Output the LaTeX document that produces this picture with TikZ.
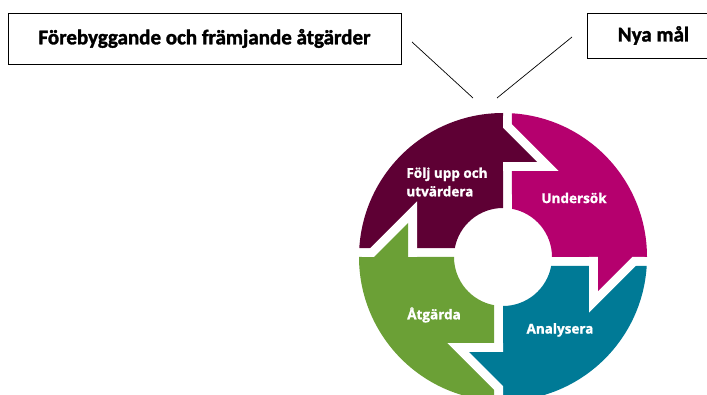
\documentclass[tikz,border=0pt]{standalone}
\usepackage{fontspec}
\setmainfont{Carlito}
\newfontfamily\boxfont[FakeBold=1.6]{Carlito Bold}
\newfontfamily\ringfont[FakeBold=1.2]{Open Sans Bold}
\usepackage{tikz}
\usetikzlibrary{calc}

\definecolor{wine}{RGB}{94,0,52}
\definecolor{plum}{RGB}{181,0,110}
\definecolor{petrol}{RGB}{0,122,150}
\definecolor{grass}{RGB}{107,160,54}

\begin{document}
\begin{tikzpicture}[x=1pt, y=1pt,
        box/.style={draw, line width=0.8pt, inner sep=0pt, font=\boxfont\fontsize{21}{25}\selectfont},
        ringlabel/.style={white, align=left, font=\ringfont\fontsize{13.5}{18.5}\selectfont}]
        \useasboundingbox (0, 0) rectangle (707, 394);
        \clip (0, 0) rectangle (707, 394);
        \node [box, minimum width=393pt, minimum height=51pt] (prevent) at (204.5, 355.5) {Förebyggande och främjande åtgärder};
        \node [box, minimum width=133pt, minimum height=45pt] (goals) at (653.5, 358.5) {Nya mål};
        \coordinate (leftend) at (412, 352);
        \coordinate (lefttip) at (473, 296);
        \coordinate (rightend) at (572, 357);
        \coordinate (righttip) at (497, 296);
        \draw [line width=0.7pt] (leftend) -- (lefttip);
        \draw [line width=0.7pt] (rightend) -- (righttip);
        \begin{scope}[shift={(503, 137)}]
            \foreach \a/\c in {0/wine, -90/plum, -180/petrol, -270/grass}{
                \fill [\c, rotate=\a] (176.42:144) arc [start angle=176.42, end angle=90, radius=144]
                    -- (90:49) arc [start angle=90, end angle=169.42, radius=49] -- cycle;
            }
            \foreach \a in {0, -90, -180, -270}{
                \fill [white, rotate=\a] (0, 86) -- (0, 141.7) -- (55.7, 86) -- cycle;
            }
            \foreach \a/\c in {0/wine, -90/plum, -180/petrol, -270/grass}{
                \fill [\c, rotate=\a] (-1, 95) -- (-1, 129) -- (0, 129) -- (34, 95) -- cycle;
            }
        \end{scope}
        \node [ringlabel] (follow) at (447, 212) {Följ upp och\\utvärdera};
        \node [ringlabel] (examine) at (574, 196) {Undersök};
        \node [ringlabel] (act) at (434, 79) {Åtgärda};
        \node [ringlabel] (analyse) at (560, 64) {Analysera};
\end{tikzpicture}
\end{document}
